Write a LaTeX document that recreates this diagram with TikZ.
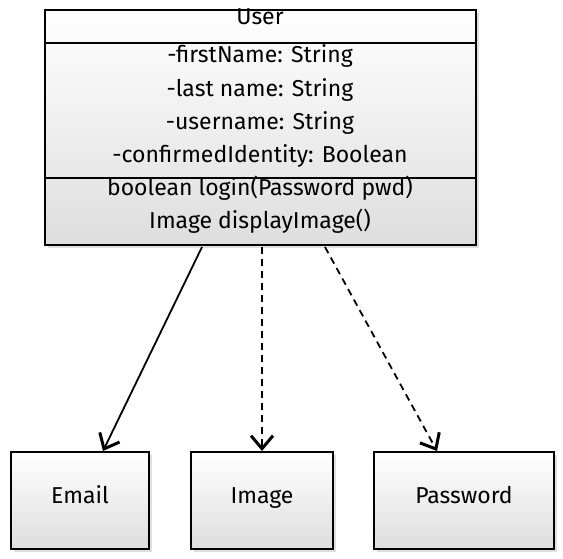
\documentclass[tikz,border=0pt]{standalone}
\usepackage{fontspec}
\setmainfont{Fira Sans}
\usetikzlibrary{arrows.meta,shadows,shadings}
\begin{document}
\begin{tikzpicture}[x=1pt,y=-1pt,
  box/.style={draw=black,line width=2pt,top color=white,bottom color=black!13,
    drop shadow={opacity=0.25,shadow xshift=2.5pt,shadow yshift=-2.5pt}},
  txt/.style={font=\fontsize{23}{27}\selectfont,inner sep=0pt,text height=0.72em,text depth=0.22em},
  conn/.style={line width=1.8pt,-{Straight Barb[length=13pt,width=22pt,line width=3pt]}},
  dconn/.style={conn,dash pattern=on 7pt off 5pt}]
\useasboundingbox (0,0) rectangle (563,558);
% User class
\path[box] (45,10) rectangle (476,245);
\coordinate (userL1) at (45,43);
\coordinate (userR1) at (476,43);
\coordinate (userL2) at (45,178);
\coordinate (userR2) at (476,178);
\draw[line width=2pt] (userL1) -- (userR1);
\draw[line width=2pt] (userL2) -- (userR2);
\node[txt] (uname) at (260,22) {User};
\node[txt] (a1) at (260,60) {-firstName: String};
\node[txt] (a2) at (260,94) {-last name: String};
\node[txt] (a3) at (260,127) {-username: String};
\node[txt] (a4) at (260,160) {-confirmedIdentity: Boolean};
\node[txt] (m1) at (260,193) {boolean login(Password pwd)};
\node[txt] (m2) at (260,226) {Image displayImage()};
\coordinate (u1) at (202,247);
\coordinate (u2) at (262,247);
\coordinate (u3) at (325,247);
% targets
\node[box,minimum width=138pt,minimum height=97pt,inner sep=0pt,anchor=north west] (email) at (10,451) {};
\node[txt] at (email.center) {Email};
\node[box,minimum width=142pt,minimum height=97pt,inner sep=0pt,anchor=north west] (image) at (190,451) {};
\node[txt] at (image.center) {Image};
\node[box,minimum width=180pt,minimum height=97pt,inner sep=0pt,anchor=north west] (password) at (373,451) {};
\node[txt] at (password.center) {Password};
\coordinate (e1) at (103,451);
\coordinate (i1) at (262,451);
\coordinate (p1) at (437,451);
\draw[conn] (u1) -- (e1);
\draw[dconn] (u2) -- (i1);
\draw[dconn] (u3) -- (p1);
\end{tikzpicture}
\end{document}
